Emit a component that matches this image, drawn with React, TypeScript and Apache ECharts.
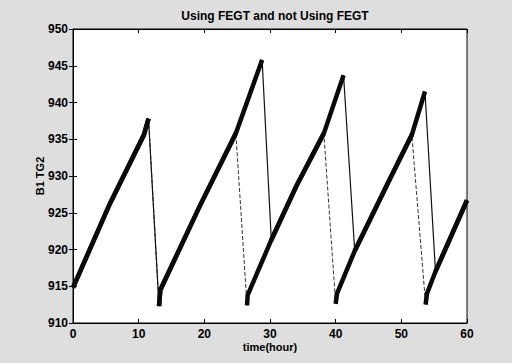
import React, { useEffect, useRef } from "react";
import * as echarts from "echarts";

// Not using FEGT (solid line): [time (hour), B1 TG2]
const timeNoFegt = [0, 5.6, 10.8, 11.5, 13.1, 13.3, 19.3, 24.8, 28.8, 30.2, 34.0, 38.2, 41.2, 42.9, 48.2, 51.6, 53.6, 55.2, 60];
const valueNoFegt = [914.8, 926.2, 935.6, 937.8, 912.3, 914.5, 925.9, 935.8, 945.8, 921.3, 928.6, 935.8, 943.7, 919.8, 929.5, 935.6, 941.5, 917.0, 926.7];

// Using FEGT (dashed line)
const timeFegt = [0, 5.6, 10.8, 11.5, 13.1, 13.3, 19.3, 24.8, 26.5, 26.6, 30.2, 34.0, 38.2, 40.0, 40.2, 42.9, 48.2, 51.6, 53.7, 53.9, 55.2, 60];
const valueFegt = [914.8, 926.2, 935.6, 937.8, 912.3, 914.5, 925.9, 935.8, 912.4, 913.8, 921.3, 928.6, 935.8, 912.6, 914.0, 919.8, 929.5, 935.6, 912.5, 914.0, 917.0, 926.7];

const xTicks = [0, 10, 20, 30, 40, 50, 60];
const yTicks = [910, 915, 920, 925, 930, 935, 940, 945, 950];

const titleText = "Using FEGT and not Using FEGT";
const xName = "time(hour)";
const yName = "B1 TG2";

function pairs(t: number[], v: number[]): number[][] {
  return t.map((x, i) => [x, v[i]]);
}

// split a curve into rising runs (drawn thick, like the dense noisy data)
function risingRuns(pts: number[][]): number[][][] {
  const runs: number[][][] = [];
  let cur: number[][] = [];
  for (let i = 1; i < pts.length; i++) {
    if (pts[i][1] > pts[i - 1][1]) {
      if (cur.length === 0) cur.push(pts[i - 1]);
      cur.push(pts[i]);
    } else if (cur.length) {
      runs.push(cur);
      cur = [];
    }
  }
  if (cur.length) runs.push(cur);
  return runs;
}

export default function App() {
  const ref = useRef<HTMLDivElement>(null);
  useEffect(() => {
    if (!ref.current) return;
    const chart = echarts.init(ref.current, undefined, { renderer: "svg" });
    const solid = pairs(timeNoFegt, valueNoFegt);
    const dashed = pairs(timeFegt, valueFegt);
    const runs = [...risingRuns(solid), ...risingRuns(dashed)];
    const font = "'Liberation Sans', Arial, sans-serif";
    const axisCommon = {
      axisLine: { show: true, lineStyle: { color: "#000", width: 1 } },
      axisTick: { show: true, inside: true, length: 4, lineStyle: { color: "#000" } },
      splitLine: { show: false },
    };
    chart.setOption({
      animation: false,
      backgroundColor: "#dedede",
      title: {
        text: titleText,
        left: 270,
        textAlign: "center",
        top: 5,
        textStyle: { fontFamily: font, fontSize: 12, fontWeight: "bold", color: "#000" },
      },
      grid: {
        left: 73,
        right: 45,
        top: 29,
        bottom: 40,
        show: true,
        backgroundColor: "#fff",
        borderColor: "#000",
        borderWidth: 1,
      },
      xAxis: [
        {
          type: "value",
          min: 0,
          max: 60,
          interval: 10,
          name: xName,
          nameLocation: "middle",
          nameGap: 18,
          nameMoveOverlap: false,
          nameTextStyle: { fontFamily: font, fontSize: 11, fontWeight: "bold", color: "#000" },
          axisLabel: {
            fontFamily: font,
            fontSize: 12,
            fontWeight: "bold",
            color: "#000",
            margin: 5,
            formatter: (v: number) => (xTicks.includes(v) ? String(v) : ""),
          },
          ...axisCommon,
        },
        {
          type: "value",
          position: "top",
          min: 0,
          max: 60,
          interval: 10,
          axisLabel: { show: false },
          ...axisCommon,
        },
      ],
      yAxis: [
        {
          type: "value",
          min: 910,
          max: 950,
          interval: 5,
          name: yName,
          nameLocation: "middle",
          nameGap: 28,
          nameMoveOverlap: false,
          nameTextStyle: { fontFamily: font, fontSize: 11, fontWeight: "bold", color: "#000" },
          axisLabel: {
            fontFamily: font,
            fontSize: 12,
            fontWeight: "bold",
            color: "#000",
            margin: 5,
            formatter: (v: number) => (yTicks.includes(v) ? String(v) : ""),
          },
          ...axisCommon,
        },
        {
          type: "value",
          position: "right",
          min: 910,
          max: 950,
          interval: 5,
          axisLabel: { show: false },
          ...axisCommon,
        },
      ],
      series: [
        {
          name: "Using FEGT",
          type: "line",
          data: dashed,
          showSymbol: false,
          symbol: "none",
          lineStyle: { color: "#333", width: 1, type: [4, 2] },
          z: 3,
        },
        {
          name: "Not Using FEGT",
          type: "line",
          data: solid,
          showSymbol: false,
          symbol: "none",
          lineStyle: { color: "#111", width: 1.2 },
          z: 4,
        },
        ...runs.map((r, i) => ({
          name: "band" + i,
          type: "line",
          data: r,
          showSymbol: false,
          symbol: "none",
          lineStyle: { color: "#0a0a0a", width: 4.5, cap: "butt", join: "miter" },
          z: 5,
        })),
      ],
    });
    return () => chart.dispose();
  }, []);
  return (
    <div
      ref={ref}
      style={{ position: "fixed", left: 0, top: 0, width: 512, height: 363 }}
    />
  );
}
